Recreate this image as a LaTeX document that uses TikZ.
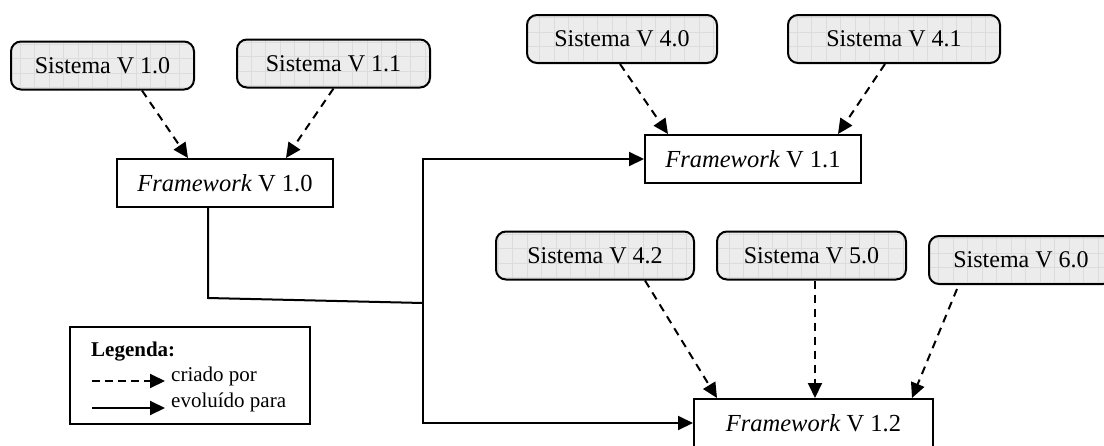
\documentclass[tikz,border=0pt]{standalone}
\usepackage{fontspec}
\setmainfont{Liberation Serif}
\usetikzlibrary{arrows.meta}
\definecolor{sysfill}{HTML}{ECECEC}
\definecolor{gridc}{HTML}{DCDCDC}
\begin{document}
\begin{tikzpicture}[x=1pt,y=-1pt,
  sysbox/.style={draw, line width=2pt, rounded corners=10pt, fill=sysfill,
    minimum width=#1, minimum height=48pt, inner sep=0pt,
    font=\fontsize{24}{28}\selectfont,
    path picture={\draw[gridc, line width=0.7pt, step=14.5pt]
      (path picture bounding box.south west) grid (path picture bounding box.north east);}},
  fwbox/.style={draw, line width=2pt, fill=white, minimum width=#1, minimum height=48pt,
    inner sep=0pt, font=\fontsize{24.5}{28}\selectfont},
  created/.style={line width=2pt, dash pattern=on 8pt off 6pt, -{Triangle[length=15pt,width=14pt]}},
  evolved/.style={line width=2pt, -{Triangle[length=15pt,width=14pt]}},
  legtext/.style={anchor=west, inner sep=0pt, font=\fontsize{21}{24}\selectfont}
]
\useasboundingbox (0,0) rectangle (1104,445);
% nodes
\node[sysbox=183pt] (s10) at (102.5,65.5) {Sistema V 1.0};
\node[sysbox=193pt] (s11) at (333.5,63.5) {Sistema V 1.1};
\node[fwbox=216pt] (f10) at (225,183) {\textit{Framework} V 1.0};
\node[sysbox=190pt] (s40) at (622,39) {Sistema V 4.0};
\node[sysbox=212pt] (s41) at (894,39) {Sistema V 4.1};
\node[fwbox=216pt] (f11) at (753,159) {\textit{Framework} V 1.1};
\node[sysbox=198pt] (s42) at (595,255.5) {Sistema V 4.2};
\node[sysbox=189pt] (s50) at (811.5,255.5) {Sistema V 5.0};
\node[sysbox=184pt] (s60) at (1021,260) {Sistema V 6.0};
\node[fwbox=239pt] (f12) at (813.5,423) {\textit{Framework} V 1.2};
% legend
\node[draw, line width=2pt, minimum width=240pt, minimum height=97pt, inner sep=0pt] (leg) at (190,375.5) {};
\node[legtext, font=\fontsize{21}{24}\selectfont\bfseries] (legt) at (91,352) {Legenda:};
\coordinate (la1) at (92,381);
\coordinate (lb1) at (165,381);
\coordinate (la2) at (92,408);
\coordinate (lb2) at (165,408);
\node[legtext] (lc) at (171,376) {criado por};
\node[legtext] (le) at (171,402) {evoluído para};
\draw[created, dash pattern=on 8pt off 5pt] (la1) -- (lb1);
\draw[evolved] (la2) -- (lb2);
% created-by connectors
\draw[created] ([xshift=39.5pt]s10.south) -- ([xshift=-37pt]f10.north);
\draw[created] (s11.south) -- ([xshift=61pt]f10.north);
\draw[created] ([xshift=-2pt]s40.south) -- ([xshift=-85pt]f11.north);
\draw[created] ([xshift=-9pt]s41.south) -- ([xshift=85pt]f11.north);
\draw[created] ([xshift=50pt]s42.south) -- ([xshift=-96.5pt]f12.north);
\draw[created] ([xshift=3.5pt]s50.south) -- ([xshift=1.5pt]f12.north);
\draw[created] ([xshift=-64pt,yshift=-4pt]s60.south) -- ([xshift=98.5pt]f12.north);
% evolved-to connectors
\coordinate (bend) at (208,298);
\coordinate (j) at (423,303);
\draw[line width=2pt] ([xshift=-17pt]f10.south) -- (bend) -- (j);
\draw[evolved] (j) |- (f11.west);
\draw[evolved] (j) |- (f12.west);
\end{tikzpicture}
\end{document}
